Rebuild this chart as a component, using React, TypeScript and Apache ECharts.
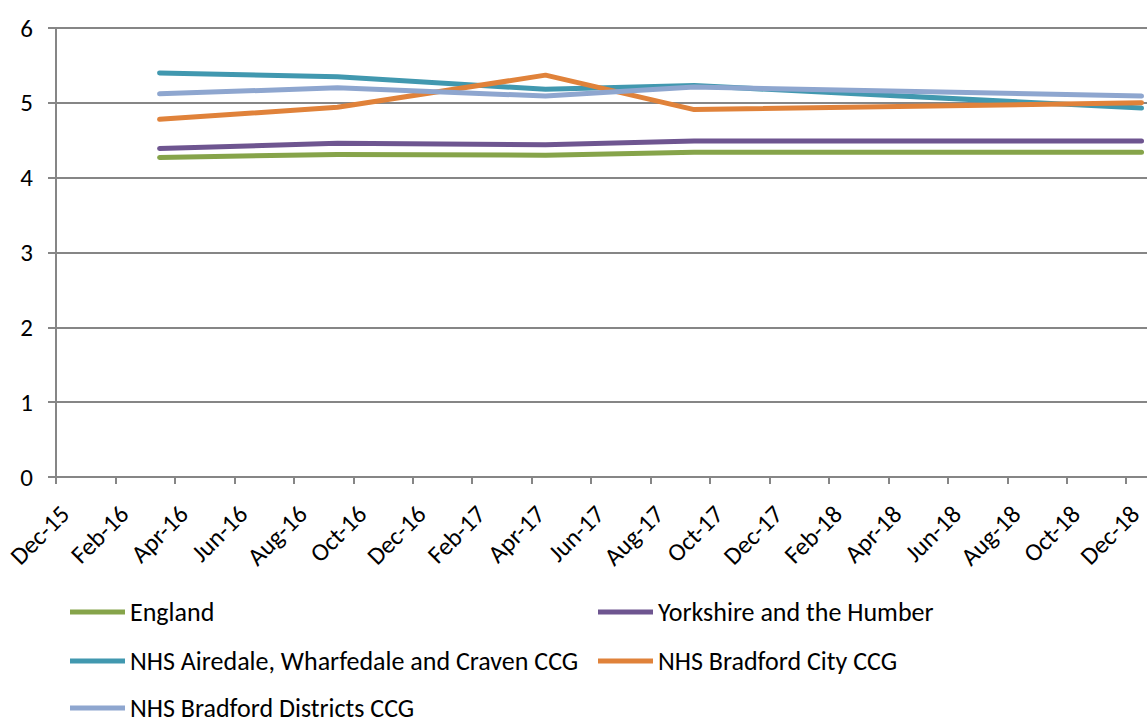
import React, { useEffect, useRef } from "react";
import * as echarts from "echarts";

const dates = ["2016-03-16", "2016-09-15", "2017-04-15", "2017-09-15", "2018-12-17"];
const seriesNames = [
  "England",
  "Yorkshire and the Humber",
  "NHS Airedale, Wharfedale and Craven CCG",
  "NHS Bradford City CCG",
  "NHS Bradford Districts CCG",
];
const england = [4.27, 4.31, 4.3, 4.34, 4.34];
const yorkshire = [4.39, 4.46, 4.44, 4.49, 4.49];
const airedale = [5.4, 5.35, 5.18, 5.23, 4.93];
const bradfordCity = [4.78, 4.94, 5.37, 4.91, 5.0];
const bradfordDistricts = [5.12, 5.2, 5.09, 5.21, 5.09];
const tickMonths = ["Dec-15", "Feb-16", "Apr-16", "Jun-16", "Aug-16", "Oct-16", "Dec-16", "Feb-17", "Apr-17", "Jun-17", "Aug-17", "Oct-17", "Dec-17", "Feb-18", "Apr-18", "Jun-18", "Aug-18", "Oct-18", "Dec-18"];

const colors = ["#86A44A", "#6E5590", "#4198AF", "#E0823A", "#8EA6CF"];
const FONT = "Carlito, Lato, 'Open Sans', sans-serif";

function monthIndex(d: string): number {
  const [y, m, day] = d.split("-").map(Number);
  const dim = new Date(y, m, 0).getDate();
  return (y - 2015) * 12 + (m - 12) + (day - 1) / dim;
}

export default function App() {
  const ref = useRef<HTMLDivElement>(null);
  useEffect(() => {
    if (!ref.current) return;
    const chart = echarts.init(ref.current, undefined, { renderer: "svg" });
    const allData = [england, yorkshire, airedale, bradfordCity, bradfordDistricts];
    const xs = dates.map(monthIndex);
    const tickVals = tickMonths.map((_, i) => i * 2);
    const legendPos = [
      { left: 70, top: 599 },
      { left: 598, top: 599 },
      { left: 70, top: 648 },
      { left: 598, top: 648 },
      { left: 70, top: 695 },
    ];
    chart.setOption({
      animation: false,
      textStyle: { fontFamily: FONT },
      grid: { left: 56, right: 0, top: 28, bottom: 240, containLabel: false, outerBoundsMode: "none" },
      xAxis: {
        type: "value",
        min: 0,
        max: 36.7,
        axisLine: { show: true, lineStyle: { color: "#868686", width: 2 } },
        axisTick: { show: true, length: 7, lineStyle: { color: "#868686", width: 2 }, customValues: tickVals },
        splitLine: { show: false },
        axisLabel: {
          customValues: tickVals,
          rotate: 45,
          fontSize: 25,
          color: "#000",
          fontFamily: FONT,
          margin: 24,
          verticalAlign: "top",
          formatter: (v: number) => tickMonths[Math.round(v / 2)] ?? "",
        },
      },
      yAxis: {
        type: "value",
        min: 0,
        max: 6,
        interval: 1,
        axisLine: { show: true, lineStyle: { color: "#868686", width: 2 } },
        axisTick: { show: true, length: 8, lineStyle: { color: "#868686", width: 2 } },
        splitLine: { show: true, lineStyle: { color: "#868686", width: 2 } },
        axisLabel: { fontSize: 25, color: "#000", fontFamily: FONT, margin: 23 },
      },
      legend: seriesNames.map((n, i) => ({
        data: [n],
        left: legendPos[i].left,
        top: legendPos[i].top,
        itemWidth: 55,
        itemHeight: 5,
        itemGap: 0,
        padding: 0,
        icon: "rect",
        textStyle: { fontSize: 26, fontFamily: FONT, color: "#000", lineHeight: 26, padding: [0, 0, 0, 0] },
      })),
      series: seriesNames.map((n, i) => ({
        name: n,
        type: "line",
        data: xs.map((x, j) => [x, allData[i][j]]),
        showSymbol: false,
        symbol: "none",
        lineStyle: { color: colors[i], width: 5, cap: "round", join: "round" },
        itemStyle: { color: colors[i] },
      })),
    });
    return () => chart.dispose();
  }, []);
  return <div ref={ref} style={{ position: "absolute", left: 0, top: 0, width: 1147, height: 717 }} />;
}
